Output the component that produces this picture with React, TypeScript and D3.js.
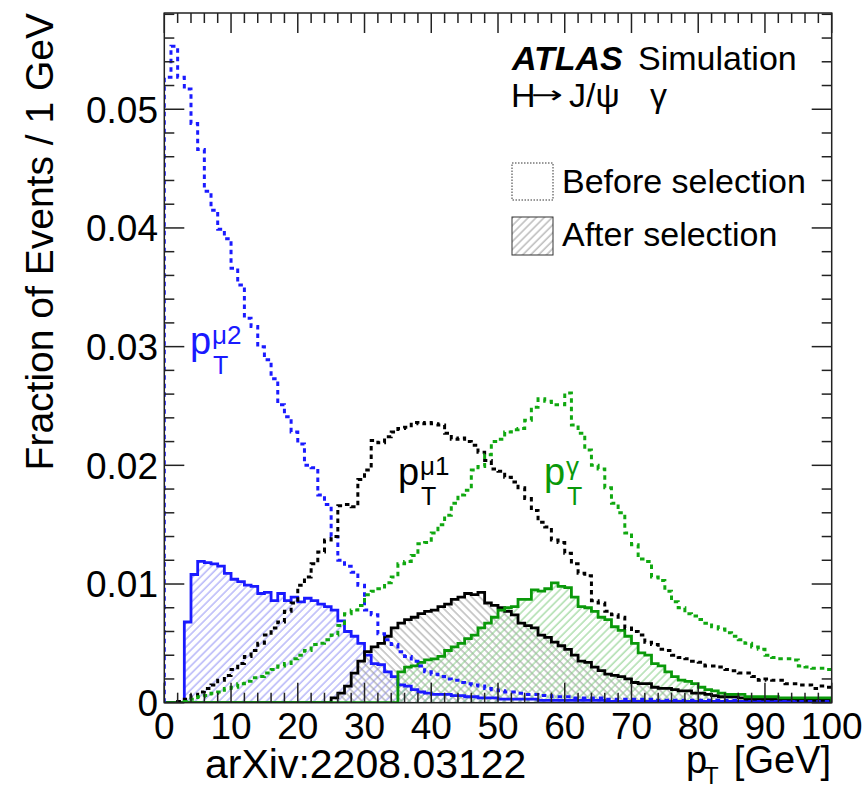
import React, { useEffect, useRef } from 'react';
import * as d3 from 'd3';

// pT bins: 100 bins of 1 GeV from 0 to 100
const nBins = 100;

// before selection (dotted)
const mu2Before = [
  0.0527, 0.0553, 0.0527, 0.0517, 0.0488, 0.0466, 0.0431, 0.0415, 0.0399, 0.0391,
  0.0366, 0.0352, 0.0324, 0.0317, 0.0300, 0.0289, 0.0273, 0.0251, 0.0241, 0.0228,
  0.0218, 0.0200, 0.0198, 0.0175, 0.0167, 0.0140, 0.0120, 0.0115, 0.0110, 0.0099,
  0.0078, 0.0074, 0.0058, 0.0053, 0.0049, 0.0043, 0.0039, 0.0035, 0.0031, 0.0026,
  0.0024, 0.0022, 0.0020, 0.0019, 0.0017, 0.0016, 0.0015, 0.0014, 0.0012, 0.0011,
  0.0010, 0.0009, 0.0009, 0.0008, 0.0007, 0.0007, 0.0006, 0.0006, 0.0005, 0.0005,
  0.0005, 0.0004, 0.0004, 0.0004, 0.0004, 0.0004, 0.0003, 0.0003, 0.0003, 0.0003,
  0.0003, 0.0003, 0.0003, 0.0002, 0.0002, 0.0002, 0.0002, 0.0002, 0.0002, 0.0002,
  0.0002, 0.0002, 0.0002, 0.0002, 0.0002, 0.0002, 0.0001, 0.0001, 0.0001, 0.0001,
  0.0001, 0.0001, 0.0001, 0.0001, 0.0001, 0.0001, 0.0001, 0.0001, 0.0001, 0.0001,
];

const mu1Before = [
  0, 0, 0.0001, 0.0003, 0.0006, 0.0009, 0.0012, 0.0015, 0.0019, 0.0023,
  0.0028, 0.0033, 0.0039, 0.0044, 0.0050, 0.0057, 0.0063, 0.0068, 0.0077, 0.0084,
  0.0099, 0.0106, 0.0117, 0.0127, 0.0137, 0.0140, 0.0166, 0.0167, 0.0165, 0.0188,
  0.0196, 0.0221, 0.0219, 0.0224, 0.0228, 0.0231, 0.0232, 0.0236, 0.0235, 0.0236,
  0.0235, 0.0234, 0.0227, 0.0222, 0.0223, 0.0220, 0.0217, 0.0211, 0.0204, 0.0197,
  0.0195, 0.0190, 0.0186, 0.0181, 0.0172, 0.0162, 0.0152, 0.0148, 0.0137, 0.0135,
  0.0126, 0.0117, 0.0109, 0.0107, 0.0086, 0.0084, 0.0077, 0.0074, 0.0072, 0.0063,
  0.0060, 0.0057, 0.0051, 0.0049, 0.0045, 0.0044, 0.0040, 0.0038, 0.0037, 0.0035,
  0.0034, 0.0031, 0.0031, 0.0030, 0.0028, 0.0027, 0.0025, 0.0025, 0.0022, 0.0019,
  0.0020, 0.0019, 0.0019, 0.0016, 0.0016, 0.0015, 0.0015, 0.0012, 0.0014, 0.0013,
];

const gamBefore = [
  0, 0, 0, 0.0001, 0.0003, 0.0005, 0.0006, 0.0008, 0.0009, 0.0012,
  0.0013, 0.0016, 0.0018, 0.0021, 0.0022, 0.0025, 0.0028, 0.0031, 0.0033, 0.0037,
  0.0040, 0.0044, 0.0049, 0.0050, 0.0053, 0.0057, 0.0065, 0.0075, 0.0078, 0.0082,
  0.0091, 0.0094, 0.0096, 0.0101, 0.0106, 0.0117, 0.0119, 0.0124, 0.0134, 0.0135,
  0.0143, 0.0150, 0.0158, 0.0168, 0.0175, 0.0179, 0.0196, 0.0199, 0.0209, 0.0220,
  0.0222, 0.0228, 0.0230, 0.0231, 0.0238, 0.0249, 0.0256, 0.0254, 0.0251, 0.0251,
  0.0261, 0.0234, 0.0227, 0.0213, 0.0200, 0.0197, 0.0181, 0.0168, 0.0160, 0.0143,
  0.0133, 0.0121, 0.0119, 0.0106, 0.0103, 0.0094, 0.0085, 0.0080, 0.0075, 0.0073,
  0.0070, 0.0067, 0.0064, 0.0062, 0.0059, 0.0056, 0.0053, 0.0050, 0.0047, 0.0045,
  0.0040, 0.0038, 0.0037, 0.0037, 0.0036, 0.0031, 0.0030, 0.0029, 0.0029, 0.0028,
];

// after selection (solid, hatched)
const mu2After = [
  0, 0, 0, 0.0068, 0.0108, 0.0119, 0.0118, 0.0117, 0.0115, 0.0109,
  0.0104, 0.0102, 0.0099, 0.0098, 0.0092, 0.0093, 0.0086, 0.0092, 0.0086, 0.0089,
  0.0085, 0.0088, 0.0086, 0.0083, 0.0081, 0.0078, 0.0069, 0.0060, 0.0056, 0.0050,
  0.0040, 0.0033, 0.0032, 0.0026, 0.0022, 0.0015, 0.0014, 0.0011, 0.0009, 0.0008,
  0.0007, 0.0007, 0.0007, 0.0006, 0.0006, 0.0005, 0.0005, 0.0004, 0.0004, 0.0004,
  0.0003, 0.0003, 0.0003, 0.0003, 0.0003, 0.0003, 0.0002, 0.0002, 0.0002, 0.0002,
  0.0002, 0.0002, 0.0002, 0.0002, 0.0002, 0.0002, 0.0001, 0.0001, 0.0001, 0.0001,
  0.0001, 0.0001, 0.0001, 0.0001, 0.0001, 0.0001, 0.0001, 0.0001, 0.0001, 0.0001,
  0.0001, 0.0001, 0.0001, 0.0001, 0.0001, 0.0001, 0.0001, 0.0001, 0.0001, 0.0001,
  0.0001, 0.0001, 0.0001, 0.0001, 0.0001, 0.0001, 0.0001, 0.0001, 0.0001, 0.0001,
];

const mu1After = [
  0, 0, 0, 0, 0, 0, 0, 0, 0, 0,
  0, 0, 0, 0, 0, 0, 0, 0, 0, 0,
  0, 0, 0, 0, 0, 0.0004, 0.0008, 0.0014, 0.0025, 0.0035,
  0.0043, 0.0047, 0.0050, 0.0056, 0.0063, 0.0067, 0.0070, 0.0072, 0.0075, 0.0077,
  0.0078, 0.0081, 0.0083, 0.0087, 0.0089, 0.0092, 0.0091, 0.0093, 0.0084, 0.0082,
  0.0080, 0.0077, 0.0074, 0.0067, 0.0065, 0.0063, 0.0057, 0.0055, 0.0051, 0.0048,
  0.0045, 0.0040, 0.0035, 0.0034, 0.0030, 0.0027, 0.0024, 0.0023, 0.0022, 0.0020,
  0.0017, 0.0016, 0.0016, 0.0013, 0.0012, 0.0012, 0.0011, 0.0010, 0.0010, 0.0008,
  0.0008, 0.0007, 0.0006, 0.0005, 0.0005, 0.0005, 0.0004, 0.0003, 0.0003, 0.0003,
  0.0003, 0.0003, 0.0003, 0.0003, 0.0003, 0.0002, 0.0002, 0.0002, 0.0002, 0.0002,
];

const gamAfter = [
  0, 0, 0, 0, 0, 0, 0, 0, 0, 0,
  0, 0, 0, 0, 0, 0, 0, 0, 0, 0,
  0, 0, 0, 0, 0, 0, 0, 0, 0, 0,
  0, 0, 0, 0, 0, 0.0026, 0.0030, 0.0031, 0.0034, 0.0036,
  0.0037, 0.0039, 0.0044, 0.0047, 0.0050, 0.0054, 0.0057, 0.0063, 0.0067, 0.0072,
  0.0078, 0.0080, 0.0081, 0.0087, 0.0087, 0.0095, 0.0094, 0.0096, 0.0101, 0.0098,
  0.0097, 0.0089, 0.0081, 0.0080, 0.0077, 0.0072, 0.0070, 0.0064, 0.0061, 0.0056,
  0.0050, 0.0042, 0.0040, 0.0033, 0.0031, 0.0026, 0.0022, 0.0019, 0.0018, 0.0016,
  0.0013, 0.0011, 0.0010, 0.0008, 0.0007, 0.0007, 0.0007, 0.0005, 0.0005, 0.0005,
  0.0005, 0.0005, 0.0004, 0.0004, 0.0004, 0.0004, 0.0004, 0.0004, 0.0004, 0.0004,
];

const xTicks = [0, 10, 20, 30, 40, 50, 60, 70, 80, 90, 100];
const yTicks = [0, 0.01, 0.02, 0.03, 0.04, 0.05];
const yTickLabels = ['0', '0.01', '0.02', '0.03', '0.04', '0.05'];

const FONT = "'Liberation Sans', Arial, Helvetica, sans-serif";
const BLUE = '#1a1aff';
const GREEN = '#0a990a';

export default function App() {
  const ref = useRef<SVGSVGElement>(null);

  useEffect(() => {
    const svg = d3.select(ref.current);
    svg.selectAll('*').remove();

    const left = 164.3;
    const right = 831.7;
    const top = 13;
    const bottom = 702.7;

    const x = d3.scaleLinear().domain([0, nBins]).range([left, right]);
    const y = d3.scaleLinear().domain([0, 0.05811]).range([bottom, top]);

    const defs = svg.append('defs');
    defs
      .append('clipPath')
      .attr('id', 'plot')
      .append('rect')
      .attr('x', left)
      .attr('y', top)
      .attr('width', right - left)
      .attr('height', bottom - top);

    // hatch: parallel lines, rotated 45deg one way or the other
    function hatch(id, color, angle) {
      const p = defs
        .append('pattern')
        .attr('id', id)
        .attr('patternUnits', 'userSpaceOnUse')
        .attr('width', 5.6)
        .attr('height', 10)
        .attr('patternTransform', `rotate(${angle})`);
      p.append('line')
        .attr('x1', 1)
        .attr('x2', 1)
        .attr('y1', 0)
        .attr('y2', 10)
        .attr('stroke', color)
        .attr('stroke-width', 1);
    }
    hatch('hBlue', '#9191f5', 45);
    hatch('hBlack', '#9a9a9a', -45);
    hatch('hGreen', '#84ce84', 45);
    hatch('hLegend', '#9a9a9a', 45);

    // full outline going back to the baseline
    function closedStep(values) {
      let d = `M${x(0)},${y(0)}`;
      values.forEach((v, i) => {
        d += `L${x(i)},${y(v)}L${x(i + 1)},${y(v)}`;
      });
      d += `L${x(values.length)},${y(0)}`;
      return d;
    }

    // open outline, skipping the empty leading bins
    function openStep(values) {
      const first = values.findIndex((v) => v > 0);
      let d = `M${x(first)},${y(0)}`;
      values.forEach((v, i) => {
        if (i < first) return;
        d += `L${x(i)},${y(v)}L${x(i + 1)},${y(v)}`;
      });
      return d;
    }

    const g = svg.append('g').attr('clip-path', 'url(#plot)');

    const after = [
      { values: mu2After, color: BLUE, fill: 'url(#hBlue)' },
      { values: mu1After, color: '#000', fill: 'url(#hBlack)' },
      { values: gamAfter, color: GREEN, fill: 'url(#hGreen)' },
    ];
    after.forEach((s) => {
      g.append('path').attr('d', closedStep(s.values)).attr('fill', s.fill).attr('stroke', 'none');
    });
    after.forEach((s) => {
      g.append('path')
        .attr('d', closedStep(s.values))
        .attr('fill', 'none')
        .attr('stroke', s.color)
        .attr('stroke-width', 2.8);
    });

    const before = [
      { values: mu2Before, color: BLUE },
      { values: mu1Before, color: '#000' },
      { values: gamBefore, color: '#10a810' },
    ];
    before.forEach((s) => {
      g.append('path')
        .attr('d', openStep(s.values))
        .attr('fill', 'none')
        .attr('stroke', s.color)
        .attr('stroke-width', 3)
        .attr('stroke-dasharray', '4.5,4');
    });

    // frame and ticks on all sides
    const axisColor = '#222';
    svg
      .append('rect')
      .attr('x', left)
      .attr('y', top)
      .attr('width', right - left)
      .attr('height', bottom - top)
      .attr('fill', 'none')
      .attr('stroke', axisColor)
      .attr('stroke-width', 1.5);

    const ticks = svg.append('g').attr('stroke', axisColor).attr('stroke-width', 1.5);
    d3.range(0, 101, 2).forEach((v) => {
      const len = v % 10 === 0 ? 20 : 10;
      ticks.append('line').attr('x1', x(v)).attr('x2', x(v)).attr('y1', bottom).attr('y2', bottom - len);
      ticks.append('line').attr('x1', x(v)).attr('x2', x(v)).attr('y1', top).attr('y2', top + len);
    });
    d3.range(0, 30).forEach((k) => {
      const v = k * 0.002;
      if (v > 0.0581) return;
      const len = k % 5 === 0 ? 20 : 10;
      ticks.append('line').attr('x1', left).attr('x2', left + len).attr('y1', y(v)).attr('y2', y(v));
      ticks.append('line').attr('x1', right).attr('x2', right - len).attr('y1', y(v)).attr('y2', y(v));
    });

    const txt = svg.append('g').attr('font-family', FONT).attr('fill', '#000');

    txt
      .selectAll('text.ylab')
      .data(yTicks)
      .enter()
      .append('text')
      .attr('x', 158)
      .attr('y', (d) => y(d))
      .attr('dy', '0.36em')
      .attr('text-anchor', 'end')
      .attr('font-size', 37)
      .text((d, i) => yTickLabels[i]);

    txt
      .selectAll('text.xlab')
      .data(xTicks)
      .enter()
      .append('text')
      .attr('x', (d) => x(d))
      .attr('y', 739)
      .attr('text-anchor', 'middle')
      .attr('font-size', 37)
      .text((d) => String(d));

    txt
      .append('text')
      .attr('transform', `translate(53,${top}) rotate(-90)`)
      .attr('text-anchor', 'end')
      .attr('font-size', 39)
      .text('Fraction of Events / 1 GeV');

    txt.append('text').attr('x', 205).attr('y', 778).attr('font-size', 41).text('arXiv:2208.03122');

    // x axis title p_T [GeV]
    txt.append('text').attr('x', 831).attr('y', 773).attr('text-anchor', 'end').attr('font-size', 38).text('[GeV]');
    txt.append('text').attr('x', 686).attr('y', 773).attr('font-size', 38).text('p');
    txt.append('text').attr('x', 704).attr('y', 784).attr('font-size', 24).text('T');

    // ATLAS label
    txt
      .append('text')
      .attr('x', 512)
      .attr('y', 70)
      .attr('font-size', 34)
      .attr('font-weight', 'bold')
      .attr('font-style', 'italic')
      .text('ATLAS');
    txt.append('text').attr('x', 638).attr('y', 70).attr('font-size', 34).text('Simulation');
    txt.append('text').attr('x', 511).attr('y', 107).attr('font-size', 34).text('H');
    txt
      .append('text')
      .attr('x', 531)
      .attr('y', 103)
      .attr('font-size', 24)
      .attr('font-family', "'DejaVu Sans', sans-serif")
      .attr('textLength', 32)
      .attr('lengthAdjust', 'spacingAndGlyphs')
      .text('\u2192');
    txt.append('text').attr('x', 569).attr('y', 107).attr('font-size', 34).text('J/\u03c8');
    txt.append('text').attr('x', 650).attr('y', 107).attr('font-size', 34).text('\u03b3');

    // legend
    svg
      .append('rect')
      .attr('x', 512)
      .attr('y', 163)
      .attr('width', 41)
      .attr('height', 37)
      .attr('fill', 'none')
      .attr('stroke', '#333')
      .attr('stroke-width', 1)
      .attr('stroke-dasharray', '1.5,1.5');
    svg
      .append('rect')
      .attr('x', 512)
      .attr('y', 217)
      .attr('width', 41)
      .attr('height', 38)
      .attr('fill', 'url(#hLegend)')
      .attr('stroke', '#333')
      .attr('stroke-width', 1);
    txt.append('text').attr('x', 562).attr('y', 193).attr('font-size', 34).text('Before selection');
    txt.append('text').attr('x', 562).attr('y', 246).attr('font-size', 34).text('After selection');

    // curve labels
    function pLabel(px, py, sup, color) {
      const t = txt.append('g').attr('fill', color);
      t.append('text').attr('x', px).attr('y', py).attr('font-size', 38).text('p');
      t.append('text').attr('x', px + 22).attr('y', py - 10).attr('font-size', 26).text(sup);
      t.append('text').attr('x', px + 23).attr('y', py + 20).attr('font-size', 25).text('T');
    }
    pLabel(190, 354, '\u03bc2', BLUE);
    pLabel(398, 485, '\u03bc1', '#000');
    pLabel(544, 485, '\u03b3', GREEN);
  }, []);

  return (
    <svg
      ref={ref}
      width={863}
      height={789}
      style={{ position: 'absolute', left: 0, top: 0, background: '#fff' }}
    />
  );
}
